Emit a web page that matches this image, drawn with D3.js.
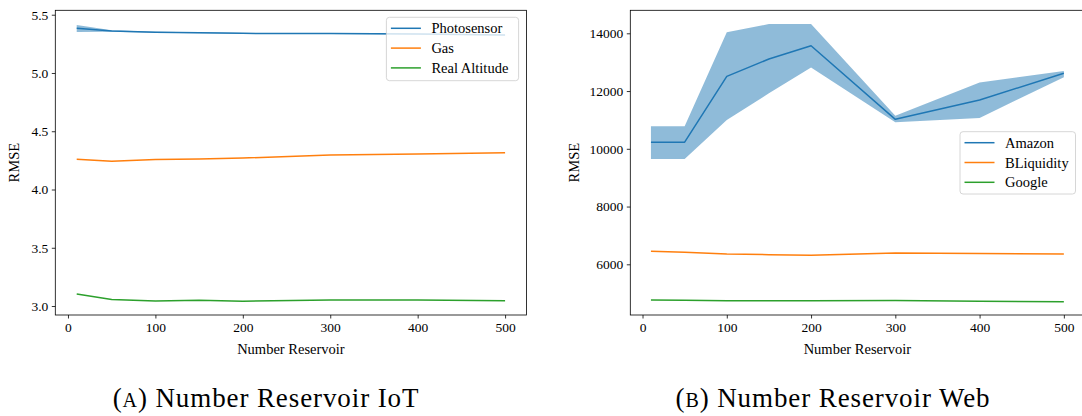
<!DOCTYPE html>
<html>
<head>
<meta charset="utf-8">
<script src="https://cdn.jsdelivr.net/npm/d3@7"></script>
<style>
  body { margin: 0; background: #fff; }
  text { font-family: "Liberation Serif", "DejaVu Serif", "Noto Serif", serif; fill: #000; }
</style>
</head>
<body>
<svg id="chart" width="1082" height="416"></svg>
<script>
// x values (number of reservoirs)
var reservoirs = [10, 50, 100, 150, 200, 300, 400, 500]
var xTicks = [0, 100, 200, 300, 400, 500]

// (A) IoT
var photosensor   = [5.383, 5.360, 5.350, 5.345, 5.340, 5.338, 5.335, 5.325]
var photosensorLo = [5.352, 5.354, 5.346, 5.341, 5.336, 5.334, 5.331, 5.321]
var photosensorHi = [5.412, 5.366, 5.354, 5.349, 5.344, 5.342, 5.339, 5.329]
var gas           = [4.260, 4.243, 4.258, 4.262, 4.270, 4.296, 4.305, 4.315]
var realAltitude  = [3.103, 3.057, 3.043, 3.050, 3.041, 3.051, 3.051, 3.046]
var iotYTicks = [3.0, 3.5, 4.0, 4.5, 5.0, 5.5]

// (B) Web
var amazon     = [10230, 10230, 12510, 13110, 13570, 11020, 11690, 12615]
var amazonLo   = [9650, 9650, 11000, 11920, 12820, 10920, 11070, 12480]
var amazonHi   = [10780, 10780, 14035, 14320, 14320, 11145, 12300, 12695]
var bliquidity = [6450, 6415, 6357, 6335, 6312, 6391, 6374, 6357]
var google     = [4764, 4755, 4740, 4740, 4740, 4747, 4720, 4705]
var webYTicks = [6000, 8000, 10000, 12000, 14000]

var C = { blue: "#1f77b4", orange: "#ff7f0e", green: "#2ca02c" }
var FONT = "'Liberation Serif', 'DejaVu Serif', 'Noto Serif', serif"

var svg = d3.select("#chart")
svg.append("rect").attr("width", 1082).attr("height", 416).attr("fill", "#fff")

function zip(a, b) { return a.map(function(v, i) { return { x: v, y: b[i] } }) }

function drawPanel(p) {
    var x = d3.scaleLinear().domain([-14.5, 524.5]).range([p.left, p.right])
    var y = d3.scaleLinear().domain(p.yDomain).range([p.bottom, p.top])
    var g = svg.append("g").attr("font-family", FONT)

    var clipId = "clip" + p.id
    g.append("clipPath").attr("id", clipId).append("rect")
        .attr("x", p.left).attr("y", p.top)
        .attr("width", p.right - p.left).attr("height", p.bottom - p.top)
    var plot = g.append("g").attr("clip-path", "url(#" + clipId + ")")

    p.series.forEach(function(s) {
        if (s.lo) {
            var area = d3.area()
                .x(function(d, i) { return x(reservoirs[i]) })
                .y0(function(d, i) { return y(s.lo[i]) })
                .y1(function(d, i) { return y(s.hi[i]) })
            plot.append("path").attr("d", area(s.values))
                .attr("fill", s.color).attr("fill-opacity", 0.5)
        }
        var line = d3.line().x(function(d) { return x(d.x) }).y(function(d) { return y(d.y) })
        plot.append("path").attr("d", line(zip(reservoirs, s.values)))
            .attr("fill", "none").attr("stroke", s.color).attr("stroke-width", 1.5)
            .attr("stroke-linejoin", "round")
    })

    // axes
    var xAxis = d3.axisBottom(x).tickValues(xTicks).tickSize(3.5).tickSizeOuter(0).tickPadding(3.5)
    var yAxis = d3.axisLeft(y).tickValues(p.yTicks).tickSize(3.5).tickSizeOuter(0).tickPadding(3.5)
        .tickFormat(p.yFormat)
    var gx = g.append("g").attr("transform", "translate(0," + p.bottom + ")").call(xAxis)
    var gy = g.append("g").attr("transform", "translate(" + p.left + ",0)").call(yAxis)
    ;[gx, gy].forEach(function(a) {
        a.attr("font-family", FONT)
        a.select(".domain").remove()
        a.selectAll(".tick line").attr("stroke", "#000").attr("stroke-width", 0.8)
        a.selectAll(".tick text").attr("font-size", 13.5).attr("fill", "#000")
    })

    // frame
    g.append("rect").attr("x", p.left).attr("y", p.top)
        .attr("width", p.right - p.left).attr("height", p.bottom - p.top)
        .attr("fill", "none").attr("stroke", "#000").attr("stroke-width", 0.8)

    g.append("text").attr("x", (p.left + p.right) / 2).attr("y", 354)
        .attr("text-anchor", "middle").attr("font-size", 14.5).text("Number Reservoir")
    g.append("text").attr("transform", "translate(" + p.ylabelX + "," + (p.top + p.bottom) / 2 + ") rotate(-90)")
        .attr("text-anchor", "middle").attr("font-size", 14.5).text("RMSE")

    // legend
    var lg = g.append("g").attr("transform", "translate(" + p.legend.x + "," + p.legend.y + ")")
    lg.append("rect").attr("width", p.legend.w).attr("height", p.legend.h)
        .attr("rx", 3).attr("fill", "#fff").attr("fill-opacity", 0.8)
        .attr("stroke", "#cccccc").attr("stroke-width", 0.8)
    p.series.forEach(function(s, i) {
        var cy = 11 + i * 19.8
        lg.append("line").attr("x1", 4.5).attr("x2", 34.5).attr("y1", cy).attr("y2", cy)
            .attr("stroke", s.color).attr("stroke-width", 1.5)
        lg.append("text").attr("x", 45).attr("y", cy).attr("dy", "0.35em")
            .attr("font-size", 14.5).text(s.name)
    })

    // caption
    var cap = svg.append("text").attr("x", p.captionX).attr("y", 407)
        .attr("font-family", FONT).attr("text-anchor", "middle").attr("font-size", 27)
        .attr("letter-spacing", 0.9)
    cap.append("tspan").text("(")
    cap.append("tspan").attr("font-size", 20).text(p.captionTag)
    cap.append("tspan").text(") " + p.caption)
}

drawPanel({
    id: "a", left: 55.3, right: 526.5, top: 10.3, bottom: 315,
    yDomain: [2.923, 5.538], yTicks: iotYTicks, yFormat: d3.format(".1f"),
    ylabelX: 19,
    series: [
        { name: "Photosensor", color: C.blue, values: photosensor, lo: photosensorLo, hi: photosensorHi },
        { name: "Gas", color: C.orange, values: gas },
        { name: "Real Altitude", color: C.green, values: realAltitude }
    ],
    legend: { x: 386.4, y: 17.3, w: 132.2, h: 63.4 },
    captionX: 266, captionTag: "A", caption: "Number Reservoir IoT"
})

drawPanel({
    id: "b", left: 630.3, right: 1084.5, top: 10.3, bottom: 315,
    yDomain: [4244, 14797], yTicks: webYTicks, yFormat: d3.format("d"),
    ylabelX: 579,
    series: [
        { name: "Amazon", color: C.blue, values: amazon, lo: amazonLo, hi: amazonHi },
        { name: "BLiquidity", color: C.orange, values: bliquidity },
        { name: "Google", color: C.green, values: google }
    ],
    legend: { x: 960, y: 131.7, w: 115.5, h: 62.3 },
    captionX: 833, captionTag: "B", caption: "Number Reservoir Web"
})
</script>
</body>
</html>
